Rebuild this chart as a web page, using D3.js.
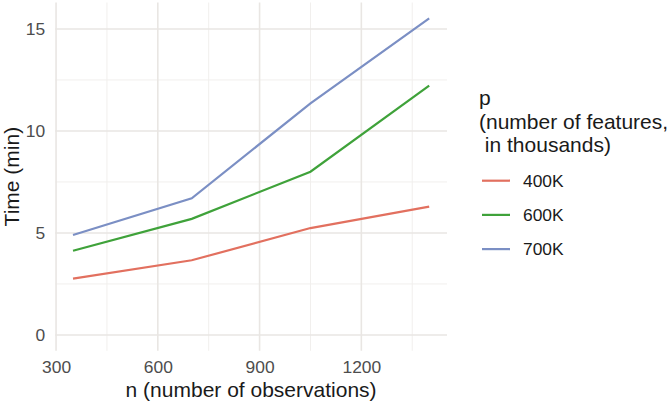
<!DOCTYPE html>
<html><head><meta charset="utf-8">
<script src="https://cdn.jsdelivr.net/npm/d3@7"></script>
<style>body{margin:0;background:#fff}svg{display:block}text{font-family:"Liberation Sans",Arial,sans-serif}</style>
</head><body>
<script>
const nValues = [350, 700, 1050, 1400];
const seriesNames = ["400K", "600K", "700K"];
const time400K = [2.76, 3.66, 5.24, 6.29];
const time600K = [4.13, 5.69, 8.0, 12.22];
const time700K = [4.9, 6.7, 11.35, 15.52];
const xTicks = [300, 600, 900, 1200];
const yTicks = [0, 5, 10, 15];
const colors = ["#e2705f", "#3fa23a", "#7b8fc4"];

const series = [time400K, time600K, time700K].map((v, i) => ({name: seriesNames[i], color: colors[i], values: v.map((t, j) => ({n: nValues[j], t}))}));

const W = 669, H = 402;
const svg = d3.select("body").append("svg").attr("width", W).attr("height", H);
const x = d3.scaleLinear().domain([297.5, 1452.5]).range([55.2, 447]);
const y = d3.scaleLinear().domain([-0.776, 16.296]).range([350.8, 2.5]);

const grid = svg.append("g");
const minorX = [450, 750, 1050, 1350];
const minorY = [2.5, 7.5, 12.5];
grid.selectAll(".mx").data(minorX).join("line").attr("x1", d => x(d)).attr("x2", d => x(d)).attr("y1", y.range()[0]).attr("y2", y.range()[1]).attr("stroke", "#f1efed").attr("stroke-width", 1);
grid.selectAll(".my").data(minorY).join("line").attr("y1", d => y(d)).attr("y2", d => y(d)).attr("x1", x.range()[0]).attr("x2", x.range()[1]).attr("stroke", "#f1efed").attr("stroke-width", 1);
grid.selectAll(".Mx").data(xTicks).join("line").attr("x1", d => x(d)).attr("x2", d => x(d)).attr("y1", y.range()[0]).attr("y2", y.range()[1]).attr("stroke", "#e9e6e3").attr("stroke-width", 1.6);
grid.selectAll(".My").data(yTicks).join("line").attr("y1", d => y(d)).attr("y2", d => y(d)).attr("x1", x.range()[0]).attr("x2", x.range()[1]).attr("stroke", "#e9e6e3").attr("stroke-width", 1.6);

const xAxis = svg.append("g").attr("transform", `translate(0,${y.range()[0]})`)
  .call(d3.axisBottom(x).tickValues(xTicks).tickFormat(d3.format("d")).tickSize(0).tickPadding(10));
xAxis.select(".domain").remove();
xAxis.selectAll("text").attr("font-size", 17.4).attr("fill", "#4d4d4d");

const yAxis = svg.append("g").attr("transform", `translate(${x.range()[0]},0)`)
  .call(d3.axisLeft(y).tickValues(yTicks).tickFormat(d3.format("d")).tickSize(0).tickPadding(10));
yAxis.select(".domain").remove();
yAxis.selectAll("text").attr("font-size", 17.4).attr("fill", "#4d4d4d");

const line = d3.line().x(d => x(d.n)).y(d => y(d.t));
svg.append("g").selectAll("path").data(series).join("path")
  .attr("d", d => line(d.values)).attr("fill", "none").attr("stroke", d => d.color).attr("stroke-width", 2.2);

svg.append("text").attr("x", (x.range()[0] + x.range()[1]) / 2).attr("y", 397).attr("text-anchor", "middle").attr("font-size", 21).attr("fill", "#1a1a1a").text("n (number of observations)");
svg.append("text").attr("transform", `translate(19,${(y.range()[0] + y.range()[1]) / 2}) rotate(-90)`).attr("text-anchor", "middle").attr("font-size", 21).attr("fill", "#1a1a1a").text("Time (min)");

const lg = svg.append("g");
const titleLines = ["p", "(number of features,", " in thousands)"];
lg.selectAll("text.t").data(titleLines).join("text").attr("x", 479).attr("y", (d, i) => 105 + i * 23.5).attr("font-size", 21).attr("fill", "#1a1a1a").attr("xml:space", "preserve").style("white-space", "pre").text(d => d);
const items = lg.selectAll("g.k").data(series).join("g").attr("transform", (d, i) => `translate(0,${180.7 + i * 34.2})`);
items.append("line").attr("x1", 482).attr("x2", 510).attr("stroke", d => d.color).attr("stroke-width", 2.2);
items.append("text").attr("x", 523).attr("dy", "0.35em").attr("font-size", 17.4).attr("fill", "#1a1a1a").text(d => d.name);
</script>
</body></html>
